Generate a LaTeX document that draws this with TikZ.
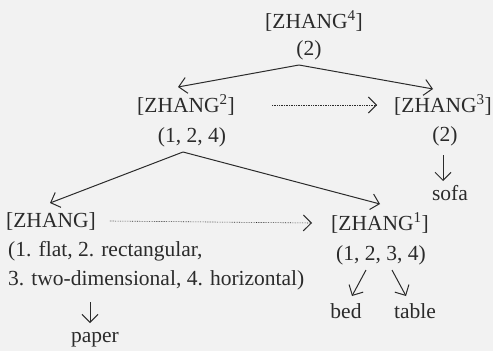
\documentclass[tikz,border=0pt]{standalone}
\usepackage{fontspec}
\setmainfont{Liberation Serif}
\usetikzlibrary{arrows.meta}
\definecolor{ink}{HTML}{2B2B2B}
\definecolor{bgc}{HTML}{F2F2F2}
\begin{document}
\begin{tikzpicture}[x=1pt,y=-1pt,
  lbl/.style={inner sep=0pt, text=ink, font=\fontsize{21.5}{25}\selectfont},
  arr/.style={draw=ink, line width=1pt, -{Straight Barb[length=8pt,width=16pt]}},
  darr/.style={draw=ink, line width=0.6pt, dash pattern=on 0.7pt off 1pt, -{Straight Barb[length=8pt,width=16pt,line width=1pt]}}]
\fill[bgc] (0,0) rectangle (493,351);
\useasboundingbox (0,0) rectangle (493,351);
% top
\node[lbl] (z4) at (314,21) {[ZHANG\textsuperscript{4}]};
\node[lbl] (p4) at (309,50) {(2)};
\coordinate (a4) at (299,65);
\coordinate (t4l) at (178,87);
\coordinate (t4r) at (433,89);
\draw[arr] (a4) -- (t4l);
\draw[arr] (a4) -- (t4r);
% second row
\node[lbl] (z2) at (186,105) {[ZHANG\textsuperscript{2}]};
\node[lbl] (p2) at (192,137) {(1, 2, 4)};
\node[lbl] (z3) at (443,105) {[ZHANG\textsuperscript{3}]};
\node[lbl] (p3) at (445,136) {(2)};
\draw[darr] ([xshift=-122pt]z3.west) -- ([xshift=-17pt]z3.west);
\node[lbl] (sofa) at (450,193) {sofa};
\coordinate (s3) at (443,155);
\draw[arr] (s3) -- (443,181);
% third
\coordinate (a2) at (183,152);
\coordinate (t2l) at (50,203);
\coordinate (t2r) at (380,204);
\draw[arr] (a2) -- (t2l);
\draw[arr] (a2) -- (t2r);
\node[lbl, anchor=west] (z0) at (6,221) {[ZHANG]};
\node[lbl] (z1) at (380,223) {[ZHANG\textsuperscript{1}]};
\draw[darr] ([xshift=14pt]z0.east) -- ([xshift=-19pt]z1.west);
\node[lbl, anchor=west] (d1) at (8,251) {(1. flat, 2. rectangular,};
\node[lbl, anchor=west] (d2) at (8,280) {3. two-dimensional, 4. horizontal)};
\node[lbl] (p1) at (381,255) {(1, 2, 3, 4)};
\node[lbl] (paper) at (95,340) {paper};
\coordinate (pa) at (90,302);
\draw[arr] (pa) -- (90,323);
\node[lbl] (bed) at (346,311) {bed};
\node[lbl] (table) at (415,311) {table};
\coordinate (ba) at (366,270);
\coordinate (ta) at (392,270);
\draw[arr] (ba) -- (352,296);
\draw[arr] (ta) -- (406,296);
\end{tikzpicture}
\end{document}
